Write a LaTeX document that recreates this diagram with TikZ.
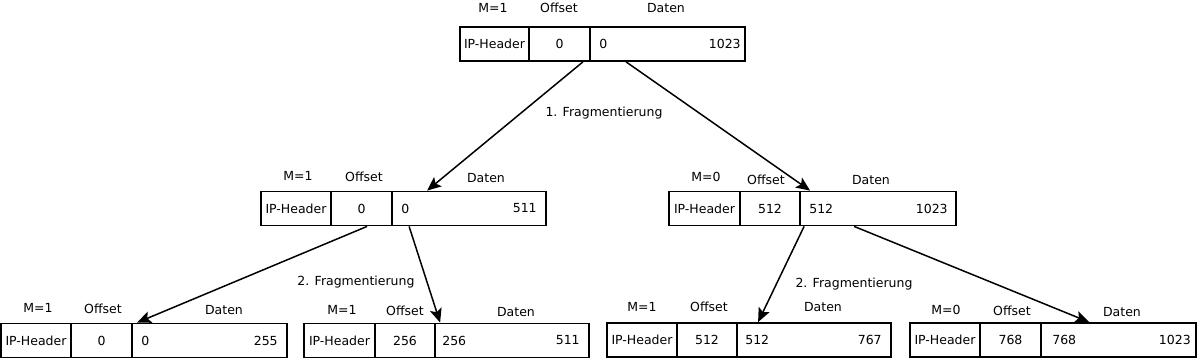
\documentclass[tikz,border=0pt]{standalone}
\usepackage{fontspec}
\setmainfont{DejaVu Sans}
\usetikzlibrary{arrows.meta,calc}
\begin{document}
\begin{tikzpicture}[x=1pt,y=-1pt,
  cell/.style={draw,line width=1.8pt,minimum height=34pt,inner sep=0pt,font=\fontsize{12.5}{14}\selectfont},
  lbl/.style={inner sep=0pt,font=\fontsize{12.5}{14}\selectfont},
  conn/.style={line width=1.5pt,-{Stealth[length=14pt,width=12pt,inset=3pt]}}]
\useasboundingbox (0,0) rectangle (1200,364);
% top packet
\node[cell,minimum width=69pt] (tH) at (494.5,44) {IP-Header};
\node[cell,minimum width=61pt] (tO) at (559.5,44) {0};
\node[cell,minimum width=155pt] (tD) at (667.5,44) {};
\node[lbl,anchor=west] (tD1) at ([xshift=10pt]tD.west) {0};
\node[lbl,anchor=east] (tD2) at ([xshift=-5pt]tD.east) {1023};
\node[lbl] (tM) at (493,8) {M=1};
\node[lbl] (tOl) at (559,8) {Offset};
\node[lbl] (tDl) at (666,8) {Daten};
% middle left
\node[cell,minimum width=70pt] (mlH) at (296,208.5) {IP-Header};
\node[cell,minimum width=61pt] (mlO) at (361.5,208.5) {0};
\node[cell,minimum width=154pt] (mlD) at (469,208.5) {};
\node[lbl,anchor=west] (mlD1) at ([xshift=10pt]mlD.west) {0};
\node[lbl,anchor=east] (mlD2) at ([xshift=-10pt]mlD.east) {511};
\node[lbl] (mlM) at (298,176) {M=1};
\node[lbl] (mlOl) at (364,177) {Offset};
\node[lbl] (mlDl) at (486,178) {Daten};
% middle right
\node[cell,minimum width=71pt] (mrH) at (704.5,208.5) {IP-Header};
\node[cell,minimum width=60pt] (mrO) at (770,208.5) {512};
\node[cell,minimum width=156pt] (mrD) at (878,208.5) {};
\node[lbl,anchor=west] (mrD1) at ([xshift=10pt]mrD.west) {512};
\node[lbl,anchor=east] (mrD2) at ([xshift=-9pt]mrD.east) {1023};
\node[lbl] (mrM) at (706,177) {M=0};
\node[lbl] (mrOl) at (766,180) {Offset};
\node[lbl] (mrDl) at (871,180) {Daten};
% bottom 1
\node[cell,minimum width=70pt] (b1H) at (36,340.5) {IP-Header};
\node[cell,minimum width=61pt] (b1O) at (101.5,340.5) {0};
\node[cell,minimum width=155pt] (b1D) at (209.5,340.5) {};
\node[lbl,anchor=west] (b1D1) at ([xshift=10pt]b1D.west) {0};
\node[lbl,anchor=east] (b1D2) at ([xshift=-10pt]b1D.east) {255};
\node[lbl] (b1M) at (38,308) {M=1};
\node[lbl] (b1Ol) at (103,309) {Offset};
\node[lbl] (b1Dl) at (224,310) {Daten};
% bottom 2
\node[cell,minimum width=71pt] (b2H) at (339.5,340.5) {IP-Header};
\node[cell,minimum width=60pt] (b2O) at (405,340.5) {256};
\node[cell,minimum width=154pt] (b2D) at (512,340.5) {};
\node[lbl,anchor=west] (b2D1) at ([xshift=8pt]b2D.west) {256};
\node[lbl,anchor=east] (b2D2) at ([xshift=-10pt]b2D.east) {511};
\node[lbl] (b2M) at (342,310) {M=1};
\node[lbl] (b2Ol) at (405,311) {Offset};
\node[lbl] (b2Dl) at (516,312) {Daten};
% bottom 3
\node[cell,minimum width=70pt] (b3H) at (642,340) {IP-Header};
\node[cell,minimum width=60pt] (b3O) at (707,340) {512};
\node[cell,minimum width=154pt] (b3D) at (814,340) {};
\node[lbl,anchor=west] (b3D1) at ([xshift=9pt]b3D.west) {512};
\node[lbl,anchor=east] (b3D2) at ([xshift=-10pt]b3D.east) {767};
\node[lbl] (b3M) at (642,307) {M=1};
\node[lbl] (b3Ol) at (709,307) {Offset};
\node[lbl] (b3Dl) at (823,307) {Daten};
% bottom 4
\node[cell,minimum width=70pt] (b4H) at (945,340) {IP-Header};
\node[cell,minimum width=61pt] (b4O) at (1010.5,340) {768};
\node[cell,minimum width=155pt] (b4D) at (1118.5,340) {};
\node[lbl,anchor=west] (b4D1) at ([xshift=12pt]b4D.west) {768};
\node[lbl,anchor=east] (b4D2) at ([xshift=-6pt]b4D.east) {1023};
\node[lbl] (b4M) at (946,310) {M=0};
\node[lbl] (b4Ol) at (1012,311) {Offset};
\node[lbl] (b4Dl) at (1122,312) {Daten};
% fragmentation labels
\node[lbl] (f1) at (604,113) {1. Fragmentierung};
\node[lbl] (f2) at (356,282) {2. Fragmentierung};
\node[lbl] (f3) at (854,284) {2. Fragmentierung};
% arrows
\draw[conn] ([xshift=-8pt]tO.south east) -- ([xshift=36pt]mlD.north west);
\draw[conn] ([xshift=37pt]tD.south west) -- ([xshift=11pt]mrD.north west);
\draw[conn] ([xshift=37pt]mlO.south west) -- ([xshift=6pt]b1D.north west);
\draw[conn] ([xshift=18pt]mlD.south west) -- ([xshift=6pt]b2D.north west);
\draw[conn] ([xshift=5pt]mrD.south west) -- ([xshift=22pt]b3D.north west);
\draw[conn] ([xshift=55pt]mrD.south west) -- ([xshift=49pt]b4D.north west);
\end{tikzpicture}
\end{document}
